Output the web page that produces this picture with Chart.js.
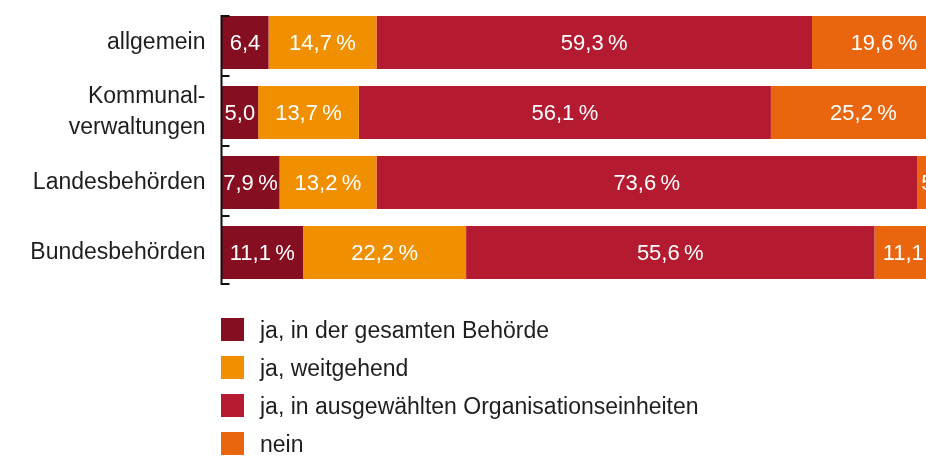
<!DOCTYPE html>
<html>
<head>
<meta charset="utf-8">
<script src="https://cdn.jsdelivr.net/npm/chart.js@4/dist/chart.umd.min.js"></script>
<style>
  html, body { margin: 0; padding: 0; background: #fff; overflow: hidden; }
  #wrap { position: relative; width: 956px; height: 458px; }
</style>
</head>
<body>
<div id="wrap"><canvas id="chart"></canvas></div>
<script>
// ---------- DATEN ----------
const categories = ['allgemein', ['Kommunal-', 'verwaltungen'], 'Landesbehörden', 'Bundesbehörden'];
const seriesLabels = ['ja, in der gesamten Behörde', 'ja, weitgehend', 'ja, in ausgewählten Organisationseinheiten', 'nein'];
const gesamt      = [6.4, 5.0, 7.9, 11.1];
const weitgehend  = [14.7, 13.7, 13.2, 22.2];
const ausgewaehlt = [59.3, 56.1, 73.6, 55.6];
const nein        = [19.6, 25.2, 5.3, 11.1];

const colors = ['#850f21', '#f09000', '#b51b30', '#e9660e'];
const FONT = '"Liberation Sans", Arial, sans-serif';

const seriesData = [gesamt, weitgehend, ausgewaehlt, nein];

// Werte in die Balken schreiben
const barLabels = {
  id: 'barLabels',
  afterDatasetsDraw(chart) {
    const ctx = chart.ctx;
    ctx.save();
    ctx.font = '22px ' + FONT;
    ctx.fillStyle = '#fff';
    ctx.textAlign = 'center';
    ctx.textBaseline = 'middle';
    chart.data.datasets.forEach((ds, di) => {
      chart.getDatasetMeta(di).data.forEach((bar, i) => {
        const v = ds.data[i];
        let txt = v.toFixed(1).replace('.', ',');
        if (v >= 7) txt += '\u2009%'; // schmale Segmente ohne Prozentzeichen
        ctx.fillText(txt, (bar.x + bar.base) / 2, bar.y + 1.5);
      });
    });
    ctx.restore();
  }
};

// Achse mit kleinen Haken + Legende unten
const axisAndLegend = {
  id: 'axisAndLegend',
  afterDraw(chart) {
    const ctx = chart.ctx;
    const left = chart.chartArea.left;
    const metas = chart.getDatasetMeta(0).data;
    const half = metas[0].height / 2;
    const ticks = [metas[0].y - half];
    for (let i = 1; i < metas.length; i++) {
      ticks.push((metas[i - 1].y + half + metas[i].y - half) / 2 - 1.5);
    }
    ticks.push(metas[metas.length - 1].y + half + 5);

    ctx.save();
    ctx.strokeStyle = '#111';
    ctx.lineWidth = 2;
    ctx.beginPath();
    ctx.moveTo(left, ticks[0]);
    ctx.lineTo(left, ticks[ticks.length - 1]);
    ticks.forEach(t => {
      ctx.moveTo(left - 1, t);
      ctx.lineTo(left + 8, t);
    });
    ctx.stroke();

    // Legende
    ctx.font = '23px ' + FONT;
    ctx.textAlign = 'left';
    ctx.textBaseline = 'middle';
    chart.data.datasets.forEach((ds, i) => {
      const top = 318 + i * 38;
      ctx.fillStyle = ds.backgroundColor;
      ctx.fillRect(221, top, 23, 23);
      ctx.fillStyle = '#1e1e1e';
      ctx.fillText(ds.label, 260, top + 13.5);
    });
    ctx.restore();
  }
};

new Chart(document.getElementById('chart'), {
  type: 'bar',
  data: {
    labels: categories,
    datasets: seriesLabels.map((label, i) => ({
      label,
      data: seriesData[i],
      backgroundColor: colors[i],
      borderWidth: 0,
      barPercentage: 53 / 70,
      categoryPercentage: 1
    }))
  },
  options: {
    indexAxis: 'y',
    responsive: true,
    maintainAspectRatio: false,
    animation: false,
    layout: { padding: { top: 7.5, bottom: 170.5, left: 0, right: 0 } },
    plugins: {
      legend: { display: false },
      tooltip: { enabled: false }
    },
    scales: {
      x: {
        stacked: true,
        min: 0,
        max: 100,
        display: false
      },
      y: {
        stacked: true,
        afterFit(scale) {
          scale.width = 221.5;
          scale.paddingTop = 0;
          scale.paddingBottom = 0;
        },
        border: { display: false },
        grid: { display: false, drawTicks: false },
        ticks: {
          padding: 16,
          color: '#1e1e1e',
          font: { family: FONT, size: 23, lineHeight: 1.35 }
        }
      }
    }
  },
  plugins: [barLabels, axisAndLegend]
});
</script>
</body>
</html>
